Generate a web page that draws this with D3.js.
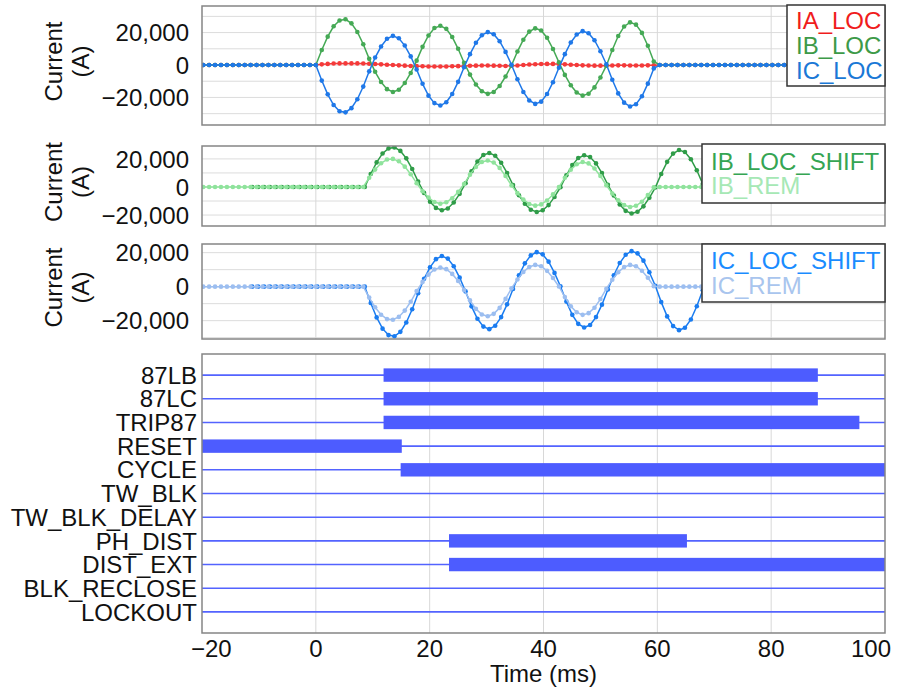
<!DOCTYPE html>
<html>
<head>
<meta charset="utf-8">
<script src="https://cdn.jsdelivr.net/npm/d3@7"></script>
<style>
  body { margin: 0; background: #fff; }
  svg text { font-family: "Liberation Sans", Arial, sans-serif; fill: #111; }
</style>
</head>
<body>
<svg id="chart" width="898" height="687"></svg>
<script>
// sampling: 16 samples per 60 Hz cycle, first sample just after -20 ms
const timeStart = -19.79;
const timeStep = 1000 / 960;
// the *_LOC_SHIFT traces are the local currents moved in time by this much (ms)
const locShift = 8.6;

// local currents (A), one value per sample
const iaLoc = [
  0,0,0,0,0,0,0,0,0,0,0,0,0,0,0,0,0,0,0,
  0,400,700,900,1000,1000,1000,1000,900,800,600,400,200,0,-200,-400,-600,
  -700,-800,-900,-900,-900,-900,-800,-700,-600,-500,-400,-300,-300,-400,-500,-600,-500,
  -300,0,300,500,600,700,700,600,400,200,0,-200,-300,-400,-400,-400,
  -300,-200,-200,-300,-300,-300,-200,-100,
  0,0,0,0,0,0,0,0,0,0,0,0,0,0,0,0,0,0,0,0,0,0,0,0,0,0,0,0,0,0,0,0,0,0,0,0,0,0,0
];
const ibLoc = [
  0,0,0,0,0,0,0,0,0,0,0,0,0,0,0,0,0,0,0,
  0,9260,17500,23900,27500,28200,25700,20400,12800,3800,
  -4200,-10500,-14900,-16600,-15300,-11100,-4900,
  2700,11200,18200,22800,24200,22300,17300,10000,1400,
  -5900,-12000,-16200,-17800,-16600,-12900,-7100,-200,
  8300,15600,20600,22600,21300,16800,9900,1600,
  -6100,-12500,-17000,-18900,-17700,-13800,-7700,-400,
  9300,17900,23800,26300,24900,19800,11900,2200,
  0,0,0,0,0,0,0,0,0,0,0,0,0,0,0,0,0,0,0,0,0,0,0,0,0,0,0,0,0,0,0,0,0,0,0,0,0,0,0
];
const icLoc = [
  0,0,0,0,0,0,0,0,0,0,0,0,0,0,0,0,0,0,0,
  0,-9600,-18100,-24700,-28500,-29200,-26600,-21100,-13300,-3900,
  4600,11400,16200,18000,16500,12000,5300,
  -2800,-11600,-18900,-23500,-25000,-23000,-17900,-10400,-1400,
  6700,13700,18400,20300,19000,14700,8100,200,
  -8800,-16600,-21900,-24000,-22600,-17900,-10600,-1700,
  6700,13900,18800,20900,19600,15300,8500,500,
  -9100,-17500,-23200,-25600,-24200,-19300,-11500,-2100,
  0,0,0,0,0,0,0,0,0,0,0,0,0,0,0,0,0,0,0,0,0,0,0,0,0,0,0,0,0,0,0,0,0,0,0,0,0,0,0
];

// remote currents (A), same sample grid
const ibRem = [
  0,0,0,0,0,0,0,0,0,0,0,0,0,0,0,0,0,0,0,
  0,0,0,0,0,0,0,0,
  0,6600,12400,16900,19600,20000,18300,14500,9100,2700,
  -3000,-7500,-10700,-11900,-10900,-8000,-3500,
  2100,8800,14300,17800,18900,17400,13600,7800,1100,
  -4400,-9000,-12100,-13300,-12400,-9600,-5300,-100,
  6600,12300,16200,17800,16800,13200,7800,1200,
  -4600,-9500,-12900,-14300,-13400,-10500,-5800,-300,
  0,0,0,0,0,0,0,0,0,0,0,0,0,0,0,0,0,0,0,0,0,0,0,0,0,0,0,0,0,0,0,0,0,0,0,0,0,0,0
];
const icRem = [
  0,0,0,0,0,0,0,0,0,0,0,0,0,0,0,0,0,0,0,
  0,0,0,0,0,0,0,0,
  0,-6400,-12100,-16500,-19100,-19500,-17800,-14100,-8900,-2600,
  2800,7100,10100,11200,10300,7500,3300,
  -1900,-8100,-13100,-16400,-17400,-16000,-12500,-7200,-1000,
  4200,8600,11600,12800,12000,9300,5100,100,
  -6100,-11500,-15100,-16600,-15600,-12400,-7300,-1200,
  4100,8500,11500,12800,12000,9400,5200,300,
  0,0,0,0,0,0,0,0,0,0,0,0,0,0,0,0,0,0,0,0,0,0,0,0,0,0,0,0,0,0,0,0,0,0,0,0,0,0,0
];

// digital elements and the intervals (ms) they are asserted
const digitalNames = ['87LB', '87LC', 'TRIP87', 'RESET', 'CYCLE', 'TW_BLK', 'TW_BLK_DELAY',
  'PH_DIST', 'DIST_EXT', 'BLK_RECLOSE', 'LOCKOUT'];
const digitalOn = [
  [[11.9, 88.2]],
  [[11.9, 88.2]],
  [[11.9, 95.5]],
  [[-20, 15.1]],
  [[14.9, 100]],
  [],
  [],
  [[23.4, 65.2]],
  [[23.4, 100]],
  [],
  []
];

const timeDomain = [-20, 100];
const timeTicks = [-20, 0, 20, 40, 60, 80, 100];
const currentTicks = [-20000, 0, 20000];

const svg = d3.select('#chart');
const fontSize = 24;
const left = 202, right = 885;
const x = d3.scaleLinear().domain(timeDomain).range([left, right]);
const fmt = d3.format(',');

const panels = [
  {top: 6, bottom: 125, domain: [-37000, 36400],
   series: [
     {name: 'IA_LOC', values: iaLoc, shift: 0, color: '#f43a3a', text: '#f01c1c'},
     {name: 'IB_LOC', values: ibLoc, shift: 0, color: '#45a955', text: '#3d9a48'},
     {name: 'IC_LOC', values: icLoc, shift: 0, color: '#1f78e8', text: '#1a78d6'}],
   legend: {x: 787, y: 5, w: 98, h: 81, rows: [20, 45, 70]}},
  {top: 146, bottom: 226, domain: [-27800, 29200],
   series: [
     {name: 'IB_LOC_SHIFT', values: ibLoc, shift: locShift, color: '#2f9c48', text: '#35a553'},
     {name: 'IB_REM', values: ibRem, shift: 0, color: '#8fe39c', text: '#a6e8b5'}],
   legend: {x: 702, y: 144, w: 183, h: 59, rows: [161, 185]}},
  {top: 244, bottom: 339, domain: [-30800, 25100],
   series: [
     {name: 'IC_LOC_SHIFT', values: icLoc, shift: locShift, color: '#1a7cf0', text: '#1a8cff'},
     {name: 'IC_REM', values: icRem, shift: 0, color: '#9cbef0', text: '#a9c5ee'}],
   legend: {x: 702, y: 244, w: 183, h: 58, rows: [260, 285]}}
];

function drawTimeGrid(g, top, bottom) {
  g.append('g').selectAll('line')
    .data(timeTicks.slice(1, -1))
    .enter().append('line')
    .attr('x1', d => x(d)).attr('x2', d => x(d))
    .attr('y1', top).attr('y2', bottom)
    .attr('stroke', '#d8d8d8').attr('stroke-width', 1);
}

function drawFrame(g, top, bottom) {
  g.append('rect')
    .attr('x', left).attr('y', top)
    .attr('width', right - left).attr('height', bottom - top)
    .attr('fill', 'none').attr('stroke', '#858585').attr('stroke-width', 1.5);
}

function drawAnalog(p, idx) {
  const y = d3.scaleLinear().domain(p.domain).range([p.bottom, p.top]);
  const g = svg.append('g');

  const grid = d3.range(-30000, 30001, 10000).filter(v => v > p.domain[0] && v < p.domain[1]);
  g.append('g').selectAll('line')
    .data(grid)
    .enter().append('line')
    .attr('x1', left).attr('x2', right)
    .attr('y1', d => y(d)).attr('y2', d => y(d))
    .attr('stroke', '#dcdcdc').attr('stroke-width', 1);
  drawTimeGrid(g, p.top, p.bottom);

  g.append('clipPath').attr('id', 'clip' + idx)
    .append('rect').attr('x', left).attr('y', p.top)
    .attr('width', right - left).attr('height', p.bottom - p.top);

  const plot = g.append('g').attr('clip-path', `url(#clip${idx})`);
  p.series.forEach(s => {
    const tx = i => x(timeStart + i * timeStep + s.shift);
    const line = d3.line().x((d, i) => tx(i)).y(d => y(d));
    plot.append('path')
      .datum(s.values)
      .attr('d', line)
      .attr('fill', 'none').attr('stroke', s.color).attr('stroke-width', 1.5);
    plot.append('g').selectAll('circle')
      .data(s.values)
      .enter().append('circle')
      .attr('cx', (d, i) => tx(i)).attr('cy', d => y(d))
      .attr('r', 2.3).attr('fill', s.color);
  });

  drawFrame(g, p.top, p.bottom);

  g.append('g').selectAll('text')
    .data(currentTicks)
    .enter().append('text')
    .attr('x', left - 13).attr('y', d => y(d))
    .attr('dy', '0.36em')
    .attr('text-anchor', 'end')
    .attr('font-size', fontSize)
    .text(d => fmt(d));

  const title = g.append('text')
    .attr('transform', `translate(62,${(p.top + p.bottom) / 2 - 4}) rotate(-90)`)
    .attr('text-anchor', 'middle')
    .attr('font-size', fontSize);
  title.append('tspan').attr('x', 0).attr('y', 0).text('Current');
  title.append('tspan').attr('x', 0).attr('y', 27).text('(A)');

  const L = p.legend;
  g.append('rect')
    .attr('x', L.x).attr('y', L.y).attr('width', L.w).attr('height', L.h)
    .attr('fill', '#fff').attr('stroke', '#333').attr('stroke-width', 1.5);
  g.append('g').selectAll('text')
    .data(p.series)
    .enter().append('text')
    .attr('x', L.x + 9).attr('y', (d, i) => L.rows[i])
    .attr('dy', '0.36em')
    .attr('font-size', fontSize)
    .style('fill', d => d.text)
    .text(d => d.name);
}

panels.forEach(drawAnalog);

// digital channels
const dTop = 354, dBottom = 633;
const yD = d3.scalePoint().domain(digitalNames).range([dTop, dBottom]).padding(0.89);
const gD = svg.append('g');
drawTimeGrid(gD, dTop, dBottom);

gD.append('g').selectAll('line')
  .data(digitalNames)
  .enter().append('line')
  .attr('x1', left).attr('x2', right)
  .attr('y1', d => yD(d)).attr('y2', d => yD(d))
  .attr('stroke', '#5363ff').attr('stroke-width', 1.6);

const bars = digitalNames.flatMap((name, i) => digitalOn[i].map(r => ({name, from: r[0], to: r[1]})));
gD.append('g').selectAll('rect')
  .data(bars)
  .enter().append('rect')
  .attr('x', d => x(d.from)).attr('width', d => x(d.to) - x(d.from))
  .attr('y', d => yD(d.name) - 6.7).attr('height', 13.4)
  .attr('fill', '#4d5cff');

drawFrame(gD, dTop, dBottom);

gD.append('g').selectAll('text')
  .data(digitalNames)
  .enter().append('text')
  .attr('x', 197).attr('y', d => yD(d))
  .attr('dy', '0.36em')
  .attr('text-anchor', 'end')
  .attr('font-size', fontSize)
  .text(d => d);

// time axis; the end labels are kept inside the figure
const lastTick = timeTicks.length - 1;
svg.append('g').selectAll('text')
  .data(timeTicks)
  .enter().append('text')
  .attr('x', (d, i) => i === 0 ? x(d) - 11 : i === lastTick ? 891 : x(d))
  .attr('y', 648)
  .attr('dy', '0.36em')
  .attr('text-anchor', (d, i) => i === 0 ? 'start' : i === lastTick ? 'end' : 'middle')
  .attr('font-size', fontSize)
  .text(d => fmt(d));

svg.append('text')
  .attr('x', (left + right) / 2).attr('y', 673)
  .attr('dy', '0.36em')
  .attr('text-anchor', 'middle')
  .attr('font-size', fontSize)
  .text('Time (ms)');
</script>
</body>
</html>
